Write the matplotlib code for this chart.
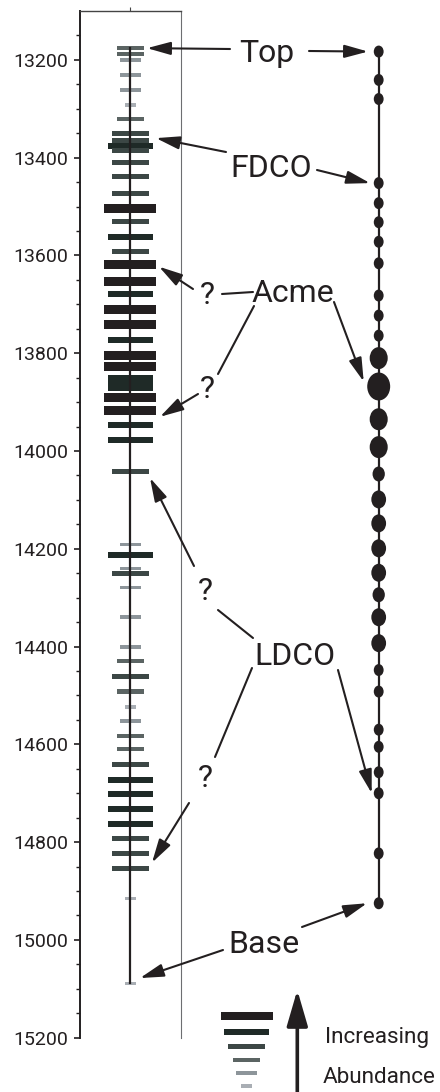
import numpy as np
import matplotlib.pyplot as plt
from matplotlib.path import Path
from matplotlib.transforms import Affine2D
from matplotlib.patches import Rectangle

plt.rcParams['font.family'] = ['Roboto', 'DejaVu Sans']

# --- data (depth, abundance class 1..6) ---
bar_depth = [13176, 13188, 13200, 13231, 13261, 13292, 13321, 13350, 13364, 13376,
             13385, 13410, 13439, 13473, 13503, 13531, 13563, 13592, 13619, 13653,
             13679, 13710, 13741, 13773, 13805, 13827, 13850, 13861, 13872, 13891,
             13918, 13947, 13977, 14041, 14191, 14213, 14240, 14250, 14279, 14339,
             14401, 14429, 14461, 14492, 14523, 14552, 14583, 14610, 14641, 14673,
             14701, 14733, 14763, 14792, 14823, 14853, 14915, 15089]
bar_level = [3, 3, 2, 2, 2, 1, 3, 4, 4, 5,
             4, 4, 4, 4, 6, 4, 5, 4, 6, 6,
             5, 6, 6, 5, 6, 6, 5, 5, 5, 6,
             6, 5, 5, 4, 2, 5, 2, 4, 2, 2,
             2, 3, 4, 3, 1, 2, 3, 3, 4, 5,
             5, 5, 5, 4, 4, 4, 1, 1]

dot_depth = [13183, 13241, 13280, 13452, 13493, 13532, 13572, 13616, 13682, 13723,
             13764, 13810, 13868, 13935, 13992, 14047, 14099, 14148, 14199, 14249,
             14294, 14340, 14393, 14448, 14492, 14570, 14605, 14657, 14700, 14823,
             14925]
dot_level = [1, 1, 1, 1, 1, 1, 1, 1, 1, 1,
             1, 4, 5, 4, 4, 2, 3, 3, 3, 3,
             2, 3, 3, 1, 1, 1, 1, 1, 1, 1,
             1]

tick_labels = [13200, 13400, 13600, 13800, 14000, 14200, 14400, 14600, 14800, 15000, 15200]

# --- styles ---
ink = '#231f20'
lev_color = {1: '#a9aeb4', 2: '#8d959a', 3: '#5b6463', 4: '#3c4745', 5: '#1f2a27', 6: '#231f20'}
lev_width = {1: 11, 2: 21, 3: 27, 4: 37, 5: 45, 6: 52}      # px
lev_thick = {1: 3.6, 2: 3.6, 3: 4.2, 4: 5, 5: 6, 6: 9}       # px
dot_h = {1: 12, 2: 15, 3: 18, 4: 22, 5: 28}                  # px (height)

W, H = 440, 1092
fig = plt.figure(figsize=(W / 100, H / 100), dpi=100)
y_top, y_bot = 11, 1037.7
ax = fig.add_axes([80 / W, 1 - y_bot / H, 101 / W, (y_bot - y_top) / H])
ax.set_xlim(-50, 51)
ax.set_ylim(15200, 13100)
ppu = (y_bot - y_top) / 2100.0   # pixels per depth unit

widths = np.array([lev_width[l] for l in bar_level], float)
thick = np.array([lev_thick[l] for l in bar_level]) / ppu
colors = [lev_color[l] for l in bar_level]
ax.barh(bar_depth, widths, height=thick, left=-widths / 2, color=colors,
        edgecolor='none', zorder=2)
ax.plot([0, 0], [bar_depth[0], bar_depth[-1]], color=ink, lw=1.6, zorder=3)

# dot column to the right
x_dot = 248.7
ax.plot([x_dot, x_dot], [dot_depth[0], dot_depth[-1]], color=ink, lw=1.6,
        clip_on=False, zorder=3)
ell = Path.unit_circle().transformed(Affine2D().scale(1, 1.22))
sizes = [(0.72 * dot_h[l]) ** 2 for l in dot_level]
ax.scatter([x_dot] * len(dot_depth), dot_depth, s=sizes, marker=ell, color=ink,
           linewidths=0, clip_on=False, zorder=4)

# axes look
ax.spines['bottom'].set_visible(False)
ax.spines['left'].set_color(ink)
ax.spines['left'].set_linewidth(1.4)
ax.spines['top'].set_color('#444444')
ax.spines['top'].set_linewidth(1.0)
ax.spines['right'].set_color('#6d6e71')
ax.spines['right'].set_linewidth(0.8)
ax.set_yticks(tick_labels)
ax.set_yticks(np.arange(13150, 15200, 50), minor=True)
ax.tick_params(axis='y', which='major', length=4.5, width=1.2, color=ink,
               labelsize=14, labelcolor=ink, pad=4)
ax.tick_params(axis='y', which='minor', length=3, width=1.0, color=ink)
ax.set_xticks([0])
ax.xaxis.tick_top()
ax.tick_params(axis='x', length=3, width=0.8, color='#444444', labeltop=False)

# overlay in pixel coordinates for labels / arrows / legend
ov = fig.add_axes([0, 0, 1, 1])
ov.set_xlim(0, W)
ov.set_ylim(H, 0)
ov.axis('off')

aprops = dict(arrowstyle='-|>,head_length=0.8,head_width=0.22', mutation_scale=18,
              lw=1.5, color=ink, shrinkA=0, shrinkB=0)
lprops = dict(arrowstyle='-', lw=1.5, color=ink, shrinkA=0, shrinkB=0)


def arrow(tip, start):
    ov.annotate('', xy=tip, xycoords=ax.transData, xytext=start, textcoords='data',
                arrowprops=aprops)


def line(a, b):
    ov.annotate('', xy=b, xytext=a, arrowprops=lprops)


fs = 23
for txt, x, y in [('Top', 267, 62), ('FDCO', 271.5, 176.7), ('Acme', 293, 302),
                  ('LDCO', 295, 665), ('Base', 263.5, 953),
                  ('?', 207, 304), ('?', 207, 398), ('?', 205, 600), ('?', 205, 787)]:
    ov.text(x, y, txt, ha='center', va='baseline', fontsize=fs, color=ink)

# Top
arrow((17, bar_depth[0]), (230, 49))
arrow((x_dot - 10.7, dot_depth[0]), (309, 51))
# FDCO
arrow((26, 13360), (226, 152))
arrow((x_dot - 8.7, dot_depth[3]), (317, 170))
# Acme
line((253, 292), (222, 294))
arrow((29, 13623), (193, 289))
line((254, 306), (218, 374))
arrow((30, 13930), (198, 394))
arrow((x_dot - 15, 13858), (334, 302))
# LDCO
line((253, 638), (218, 610))
arrow((20, 14055), (194, 566))
line((252, 668), (215, 757))
arrow((22, 14842), (189, 803))
arrow((x_dot - 7, dot_depth[28]), (338, 670))
# Base
arrow((10, 15078), (223, 950))
arrow((x_dot - 11.7, dot_depth[-1]), (302, 927))

# legend
leg_y = {6: 1016, 5: 1031.7, 4: 1046.3, 3: 1060.2, 2: 1073.3, 1: 1086}
leg_w = {6: 51.7, 5: 45, 4: 36.7, 3: 27.3, 2: 20.7, 1: 10.7}
leg_t = {6: 8, 5: 6, 4: 4.7, 3: 4.3, 2: 4, 1: 4}
for l in range(6, 0, -1):
    ov.add_patch(Rectangle((246.7 - leg_w[l] / 2, leg_y[l] - leg_t[l] / 2), leg_w[l], leg_t[l],
                           color=lev_color[l], lw=0))
ov.annotate('', xy=(297.3, 990), xytext=(297.3, 1096),
            arrowprops=dict(arrowstyle='-|>,head_length=1.1,head_width=0.32',
                            mutation_scale=20, lw=2.6, color=ink, shrinkA=0, shrinkB=0))
ov.text(376.7, 1043.3, 'Increasing', ha='center', va='baseline', fontsize=16.2, color=ink)
ov.text(379.5, 1083, 'Abundance', ha='center', va='baseline', fontsize=16.2, color=ink)

fig.savefig('out.png', dpi=100)
